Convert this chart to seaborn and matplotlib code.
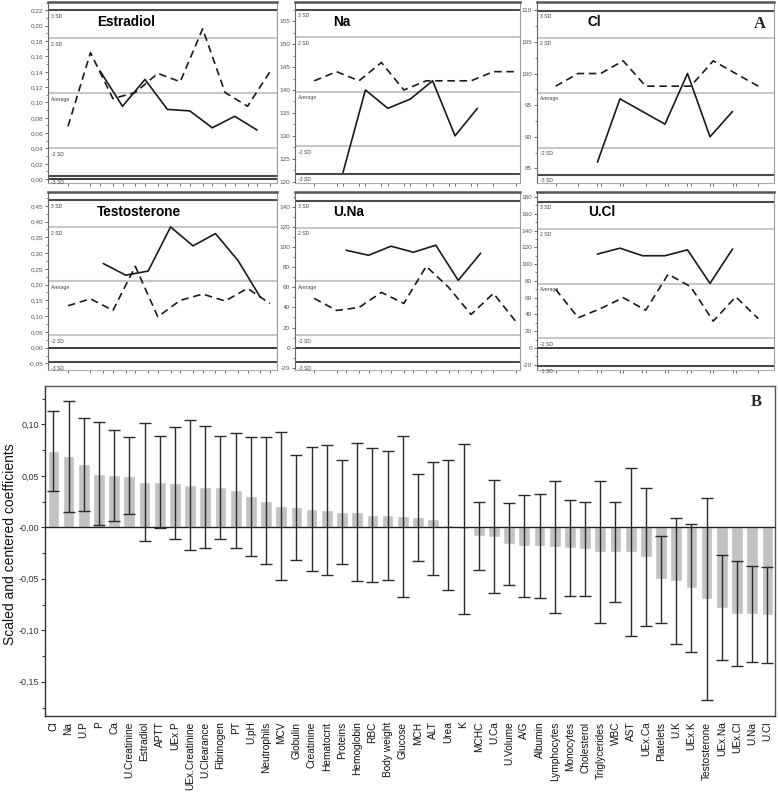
import numpy as np
import pandas as pd
import matplotlib
matplotlib.use("Agg")
import matplotlib.pyplot as plt
import matplotlib.transforms as mtrans
from matplotlib.ticker import MultipleLocator, FuncFormatter, FixedLocator
import seaborn as sns

sns.set_style("white")
plt.rcParams["font.family"] = ["Liberation Sans", "DejaVu Sans"]

# ---------------- Panel A data ----------------
days = [0, 7, 14, 21, 28, 35, 42, 49, 56, 63]

est_dash = [0.069, 0.165, 0.105, 0.113, 0.138, 0.127, 0.196, 0.113, 0.095, 0.140]
est_solid_t = [10, 17, 24, 31, 38, 45, 52, 59]
est_solid = [0.141, 0.095, 0.130, 0.091, 0.089, 0.067, 0.082, 0.064]

na_dash = [142, 144, 142, 146, 140, 142, 142, 142, 144, 144]
na_solid_t = [9, 16, 23, 30, 37, 44, 51]
na_solid = [122, 140, 136, 138, 142, 130, 136]

cl_dash = [98, 100, 100, 102, 98, 98, 98, 102, 100, 98]
cl_solid_t = [13, 20, 34, 41, 48, 55]
cl_solid = [86, 96, 92, 100, 90, 94]

tes_dash = [0.133, 0.155, 0.118, 0.258, 0.098, 0.150, 0.170, 0.148, 0.188, 0.140]
tes_solid_t = [11, 18, 25, 32, 39, 46, 53, 60]
tes_solid = [0.267, 0.230, 0.243, 0.383, 0.323, 0.362, 0.277, 0.160]

una_dash = [49, 37, 40, 55, 44, 81, 60, 33, 54, 26]
una_solid_t = [10, 17, 24, 31, 38, 45, 52]
una_solid = [97, 92, 101, 95, 102, 67, 94]

ucl_dash = [70, 36, 47, 60, 45, 88, 73, 32, 61, 35]
ucl_solid_t = [13, 20, 27, 34, 41, 48, 55]
ucl_solid = [112, 119, 110, 110, 117, 77, 118]

panel_names = ["Estradiol", "Na", "Cl", "Testosterone", "U.Na", "U.Cl"]
panel_means = [0.112, 139.6, 96.95, 0.211, 65.9, 76.6]
panel_sds = [0.036, 5.95, 4.33, 0.0858, 26.85, 32.66]
sd_levels = [3, 2, 0, -2, -3]
sd_labels = ["3 SD", "2 SD", "Average", "-2 SD", "-3 SD"]

# ---------------- Panel B data ----------------
categories = ["Cl", "Na", "U.P", "P", "Ca", "U.Creatinine", "Estradiol", "APTT",
              "UEx.P", "UEx.Creatinine", "U.Clearance", "Fibrinogen", "PT", "U.pH",
              "Neutrophils", "MCV", "Globulin", "Creatinine", "Hematocrit", "Proteins",
              "Hemoglobin", "RBC", "Body weight", "Glucose", "MCH", "ALT", "Urea", "K",
              "MCHC", "U.Ca", "U.Volume", "A/G", "Albumin", "Lymphocytes", "Monocytes",
              "Cholesterol", "Triglycerides", "WBC", "AST", "UEx.Ca", "Platelets", "U.K",
              "UEx.K", "Testosterone", "UEx.Na", "UEx.Cl", "U.Na", "U.Cl"]
coefficients = [0.074, 0.069, 0.061, 0.052, 0.0505, 0.050, 0.044, 0.044,
                0.043, 0.041, 0.039, 0.039, 0.036, 0.030,
                0.026, 0.0207, 0.0194, 0.018, 0.017, 0.015,
                0.015, 0.0123, 0.0117, 0.0107, 0.0097, 0.0084, 0.0026, -0.002,
                -0.0082, -0.009, -0.0165, -0.018, -0.018, -0.019, -0.020,
                -0.021, -0.024, -0.024, -0.024, -0.029, -0.0505, -0.052,
                -0.059, -0.0696, -0.078, -0.084, -0.084, -0.085]
conf_int = [0.039, 0.054, 0.045, 0.050, 0.044, 0.0375, 0.057, 0.0445,
            0.054, 0.0635, 0.059, 0.050, 0.056, 0.058,
            0.062, 0.0715, 0.051, 0.060, 0.063, 0.0505,
            0.067, 0.065, 0.0625, 0.078, 0.0425, 0.055, 0.063, 0.0825,
            0.033, 0.055, 0.0397, 0.0495, 0.0505, 0.064, 0.047,
            0.046, 0.069, 0.0485, 0.082, 0.067, 0.0423, 0.061,
            0.062, 0.098, 0.0507, 0.051, 0.0466, 0.0466]

# ---------------- layout ----------------
W, H = 778, 794
fig = plt.figure(figsize=(W / 100, H / 100), dpi=100)

cols_px = [(48, 277), (295, 520), (537, 774)]
rows_px = [(2, 183), (192, 370)]
col_xlim = [(-6.25, 65.2), (-6.0, 64.3), (-5.8, 67.9)]
title_x = [0.214, 0.169, 0.215]

panel_data = [
    (days, est_dash, est_solid_t, est_solid),
    (days, na_dash, na_solid_t, na_solid),
    (days, cl_dash, cl_solid_t, cl_solid),
    (days, tes_dash, tes_solid_t, tes_solid),
    (days, una_dash, una_solid_t, una_solid),
    (days, ucl_dash, ucl_solid_t, ucl_solid),
]
ylims = [(-0.005, 0.231), (119.7, 159.2), (82.7, 111.3),
         (-0.071, 0.494), (-22.3, 155), (-26.3, 186)]
ysteps = [0.02, 5, 5, 0.05, 20, 20]
ydec = [2, 0, 0, 2, 0, 0]


def comma_fmt(dec):
    def f(v, pos):
        if dec == 0:
            return f"{v:.0f}"
        s = f"{v:.{dec}f}".replace(".", ",")
        return s.replace("-0,00", "0,00")
    return FuncFormatter(f)


for i in range(6):
    r, c = divmod(i, 3)
    x0, x1 = cols_px[c]
    y0, y1 = rows_px[r]
    ax = fig.add_axes([x0 / W, 1 - y1 / H, (x1 - x0) / W, (y1 - y0) / H])
    td, vd, ts, vs = panel_data[i]
    m, s = panel_means[i], panel_sds[i]
    blend = mtrans.blended_transform_factory(ax.transAxes, ax.transData)
    for k, lab in zip(sd_levels, sd_labels):
        yv = m + k * s
        col = "#4a4a4a" if abs(k) == 3 else "#c8c8c8"
        ax.axhline(yv, color=col, lw=1.5, zorder=1)
        ax.annotate(lab, xy=(0.0, yv), xycoords=blend, xytext=(2, -2.5),
                    textcoords="offset points", fontsize=3.7, color="#444",
                    va="top", ha="left")
    if ylims[i][0] < 0:
        ax.axhline(0, color="#3a3a3a", lw=1.4, zorder=1)
    sns.lineplot(x=td, y=vd, ax=ax, color="#1a1a1a", lw=1.2,
                 linestyle=(0, (4.5, 2.8)), zorder=3)
    sns.lineplot(x=ts, y=vs, ax=ax, color="#1a1a1a", lw=1.2, zorder=3)
    ax.set_xlim(*col_xlim[c])
    ax.set_ylim(*ylims[i])
    ax.yaxis.set_major_locator(MultipleLocator(ysteps[i]))
    ax.yaxis.set_minor_locator(MultipleLocator(ysteps[i] / 2))
    ax.yaxis.set_major_formatter(comma_fmt(ydec[i]))
    ax.set_xticks(sorted(set(td) | set(ts)))
    ax.set_xticklabels([])
    ax.tick_params(axis="y", which="major", labelsize=4.6, labelcolor="#555",
                   color="#555", length=2.5, width=0.6, pad=1, left=True)
    ax.tick_params(axis="y", which="minor", color="#555", length=1.5, width=0.5, left=True)
    ax.tick_params(axis="x", which="major", color="#555", length=2, width=0.6,
                   bottom=True, direction="out")
    ax.set_xlabel("")
    ax.set_ylabel("")
    ax.spines["top"].set_color("#555")
    ax.spines["top"].set_linewidth(1.8)
    ax.spines["left"].set_color("#666")
    ax.spines["left"].set_linewidth(0.8)
    ax.spines["right"].set_color("#999")
    ax.spines["right"].set_linewidth(0.8)
    ax.spines["bottom"].set_color("#aaa")
    ax.spines["bottom"].set_linewidth(0.8)
    ax.text(title_x[c], 0.89, panel_names[i], transform=ax.transAxes,
            fontsize=9.8, fontweight="bold", va="center", ha="left", color="black")
    if i == 2:
        ax.text(0.94, 0.88, "A", transform=ax.transAxes, fontsize=12,
                fontweight="bold", family="Liberation Serif", va="center", ha="center")

# ---------------- Panel B ----------------
bx0, bx1, by0, by1 = 45, 775, 386, 716
axb = fig.add_axes([bx0 / W, 1 - by1 / H, (bx1 - bx0) / W, (by1 - by0) / H])
dfb = pd.DataFrame({"variable": categories, "coef": coefficients, "ci": conf_int})
sns.barplot(data=dfb, x="variable", y="coef", color="#c2c2c2", saturation=1,
            width=0.77, errorbar=None, ax=axb, zorder=2)
axb.errorbar(np.arange(len(categories)), dfb["coef"], yerr=dfb["ci"], fmt="none",
             ecolor="#2a2a2a", elinewidth=1.0, capsize=4.2, capthick=1.0, zorder=4)
axb.axhline(0, color="#222", lw=1.0, zorder=3)
axb.set_xlim(-0.55, len(categories) - 0.5)
axb.set_ylim(-0.1832, 0.1372)
axb.yaxis.set_major_locator(FixedLocator([-0.15, -0.10, -0.05, 0.0, 0.05, 0.10]))
axb.yaxis.set_minor_locator(FixedLocator([-0.175, -0.125, -0.075, -0.025, 0.025, 0.075, 0.125]))


def bfmt(v, pos):
    if abs(v) < 1e-9:
        return "-0,00"
    return f"{v:.2f}".replace(".", ",")


axb.yaxis.set_major_formatter(FuncFormatter(bfmt))
axb.tick_params(axis="y", which="major", labelsize=6.5, labelcolor="#333",
                color="#333", length=3, width=0.8, left=True, pad=1.5)
axb.tick_params(axis="y", which="minor", color="#333", length=2.5, width=0.8, left=True)
axb.tick_params(axis="x", length=0, labelsize=7.3, labelcolor="#111", rotation=90, pad=4)
axb.set_xlabel("")
axb.set_ylabel("Scaled and centered coefficients", fontsize=10, color="#111")
axb.yaxis.set_label_coords(-0.0385, 0.52)
for sp in ["left", "bottom"]:
    axb.spines[sp].set_color("#333")
    axb.spines[sp].set_linewidth(1.0)
for sp in ["top", "right"]:
    axb.spines[sp].set_color("#555")
    axb.spines[sp].set_linewidth(1.0)
axb.text(0.975, 0.95, "B", transform=axb.transAxes, fontsize=12, fontweight="bold",
         family="Liberation Serif", va="center", ha="center")

fig.savefig("out.png", dpi=100)
